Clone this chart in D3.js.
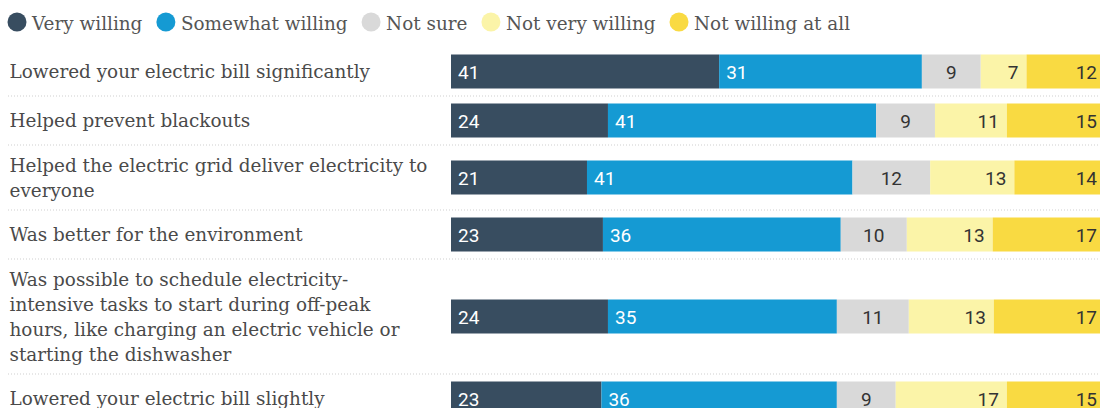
<!DOCTYPE html>
<html>
<head>
<meta charset="utf-8">
<script src="https://cdn.jsdelivr.net/npm/d3@7"></script>
<style>
  html, body { margin: 0; padding: 0; background: #fff; overflow: hidden; }
  svg { display: block; }
</style>
</head>
<body>
<svg id="chart" width="1100" height="408"></svg>
<script>
// ---------- data ----------
const seriesNames = ["Very willing", "Somewhat willing", "Not sure", "Not very willing", "Not willing at all"];
const categoryLines = [
  ["Lowered your electric bill significantly"],
  ["Helped prevent blackouts"],
  ["Helped the electric grid deliver electricity to", "everyone"],
  ["Was better for the environment"],
  ["Was possible to schedule electricity-", "intensive tasks to start during off-peak", "hours, like charging an electric vehicle or", "starting the dishwasher"],
  ["Lowered your electric bill slightly"]
];
const veryWilling      = [41, 24, 21, 23, 24, 23];
const somewhatWilling  = [31, 41, 41, 36, 35, 36];
const notSure          = [9, 9, 12, 10, 11, 9];
const notVeryWilling   = [7, 11, 13, 13, 13, 17];
const notWillingAtAll  = [12, 15, 14, 17, 17, 15];

// ---------- styles ----------
const colors = ["#384d60", "#159ad3", "#d9d9d9", "#fbf4a8", "#f9da42"];
const labelColors = ["#ffffff", "#ffffff", "#333333", "#333333", "#333333"];
const labelAlign = ["start", "start", "middle", "end", "end"];
const serif = "'DejaVu Serif', serif";
const sans = "Roboto, 'Liberation Sans', sans-serif";

const series = [veryWilling, somewhatWilling, notSure, notVeryWilling, notWillingAtAll];
const svg = d3.select("#chart");

// ---------- legend ----------
const legend = svg.append("g");
let lx = 7.5;
seriesNames.forEach((name, i) => {
  legend.append("circle").attr("cx", lx + 9.5).attr("cy", 22).attr("r", 9.5).attr("fill", colors[i]);
  const t = legend.append("text").attr("x", lx + 24.5).attr("y", 29.5)
    .attr("font-family", serif).attr("font-size", 18.4).attr("fill", "#555")
    .text(name);
  lx = lx + 24.5 + t.node().getComputedTextLength() + 14;
});

// ---------- layout ----------
const lineH = 25, barH = 34, pad = 7.5;
const rows = [];
let rowTop = 54.5;
categoryLines.forEach((lines, i) => {
  const h = Math.max(lines.length * lineH, barH);
  rows.push({ i, lines, top: rowTop, center: rowTop + h / 2, sep: rowTop + h + pad });
  rowTop = rowTop + h + 2 * pad;
});

const x = d3.scaleLinear().domain([0, 1]).range([451, 1105]);

// separators
svg.append("g").selectAll("line").data(rows).join("line")
  .attr("x1", 8).attr("x2", 1100)
  .attr("y1", d => d.sep).attr("y2", d => d.sep)
  .attr("stroke", "#cfcfcf").attr("stroke-width", 1).attr("stroke-dasharray", "1,2");

// category labels
const lab = svg.append("g");
rows.forEach(r => {
  const n = r.lines.length;
  r.lines.forEach((ln, j) => {
    lab.append("text")
      .attr("x", 9.5)
      .attr("y", r.center - (n - 1) / 2 * lineH + j * lineH + 6.5)
      .attr("font-family", serif).attr("font-size", 18.4).attr("fill", "#4a4a4a")
      .text(ln);
  });
});

// bars
const barsG = svg.append("g");
rows.forEach(r => {
  const vals = series.map(s => s[r.i]);
  const total = d3.sum(vals);
  let cum = 0;
  const segs = vals.map((v, k) => {
    const s = { k, v, x0: x(cum / total), x1: x((cum + v) / total) };
    cum += v;
    return s;
  });
  const g = barsG.append("g");
  g.selectAll("rect").data(segs).join("rect")
    .attr("x", d => d.x0).attr("width", d => d.x1 - d.x0)
    .attr("y", r.center - barH / 2).attr("height", barH)
    .attr("fill", d => colors[d.k]);
  g.selectAll("text").data(segs).join("text")
    .attr("x", d => labelAlign[d.k] === "start" ? d.x0 + 7 : labelAlign[d.k] === "end" ? d.x1 - 8 : (d.x0 + d.x1) / 2)
    .attr("y", r.center + 7)
    .attr("text-anchor", d => labelAlign[d.k])
    .attr("font-family", sans).attr("font-size", 19).attr("fill", d => labelColors[d.k])
    .text(d => d.v);
});
</script>
</body>
</html>
